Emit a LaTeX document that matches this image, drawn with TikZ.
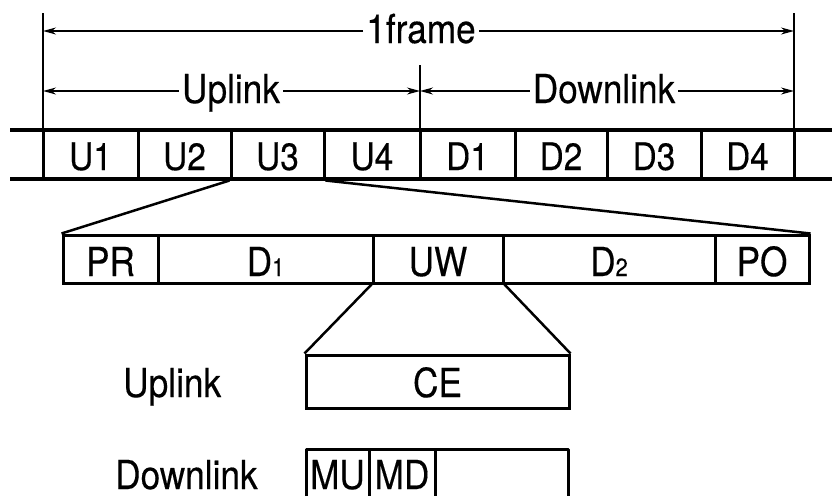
\documentclass[tikz,border=0pt]{standalone}
\usepackage{fontspec}
\setmainfont[FakeStretch=0.88,FakeBold=0.3]{TeX Gyre Heros}
\usetikzlibrary{arrows.meta}
\begin{document}
\begin{tikzpicture}[x=1pt,y=-1pt,
  lbl/.style={font=\fontsize{40}{40}\selectfont, inner sep=0pt},
  toplbl/.style={lbl, inner xsep=3pt, text height=27pt, text depth=0pt},
  stripcell/.style={draw, line width=3pt, minimum height=49pt, inner sep=0pt,
    text height=31pt, text depth=0pt, font=\fontsize{38}{38}\selectfont},
  fieldcell/.style={draw, line width=3pt, minimum height=48pt, inner sep=0pt,
    text height=34pt, text depth=0pt, font=\fontsize{40}{40}\selectfont},
  boxline/.style={line width=3pt, line join=round},
  dimline/.style={line width=1.3pt},
  dimarrow/.style={dimline, -{Stealth[length=13pt,width=7pt]}},
  rail/.style={line width=4.5pt},
  zoomline/.style={line width=2.5pt}]
\useasboundingbox (0,0) rectangle (832,496);

% dimension guide lines
\coordinate (gl) at (43,13);  \coordinate (glb) at (43,130);
\coordinate (gm) at (420,65); \coordinate (gmb) at (420,130);
\coordinate (gr) at (794,13); \coordinate (grb) at (794,130);
\draw[dimline] (gl) -- (glb);
\draw[dimline] (gm) -- (gmb);
\draw[dimline] (gr) -- (grb);

% 1 frame
\coordinate (fl) at (43,31); \coordinate (fr) at (794,31);
\node[toplbl, anchor=base] (frame) at (421,43) {1frame};
\draw[dimarrow] (frame.west |- fl) -- (fl);
\draw[dimarrow] (frame.east |- fr) -- (fr);

% uplink / downlink
\coordinate (ul) at (43,91); \coordinate (um) at (420,91); \coordinate (dr) at (794,91);
\node[toplbl, anchor=base] (uptop) at (231,103) {Uplink};
\node[toplbl, anchor=base] (dntop) at (604,103) {Downlink};
\draw[dimarrow] (uptop.west |- ul) -- (ul);
\draw[dimarrow] (uptop.east |- um) -- (um);
\draw[dimarrow] (dntop.west |- um) -- (um);
\draw[dimarrow] (dntop.east |- dr) -- (dr);

% frame strip
\foreach \n/\l/\r/\t in {u1/43/138/U1, u2/138/231/U2, u3/231/324/U3, u4/324/420/U4,
                         d1/420/515/D1, d2/515/607/D2, d3/607/701/D3, d4/701/794/D4}
  \node[stripcell, minimum width={\r-\l}] (\n) at ({(\l+\r)/2},154.5) {\t};
\coordinate (rtl) at (10,130);  \coordinate (rtr) at (832,130);
\coordinate (rbl) at (10,179);  \coordinate (rbr) at (832,179);
\draw[rail] (rtl) -- (rtr);
\draw[rail] (rbl) -- (rbr);

% burst fields
\node[fieldcell, minimum width=95]  (pr) at (110.5,259) {PR};
\node[fieldcell, minimum width=215] (da) at (265.5,259) {D{\fontsize{25}{25}\selectfont 1}};
\node[fieldcell, minimum width=130] (uw) at (438,259) {UW};
\node[fieldcell, minimum width=212] (db) at (609,259) {D{\fontsize{25}{25}\selectfont 2}};
\node[fieldcell, minimum width=94]  (po) at (762,259) {PO};

\draw[zoomline] (u3.south west) -- (pr.north west);
\draw[zoomline] (u3.south east) -- (po.north east);

% CE box (uplink)
\node[fieldcell, minimum width=263, minimum height=53, text height=31pt] (ce) at (437.5,381.5) {CE};
\draw[zoomline] (uw.south west) -- (ce.north west);
\draw[zoomline] (uw.south east) -- (ce.north east);
\node[lbl, anchor=base west] (uplbl) at (123,397) {Uplink};

% downlink box
\coordinate (bl) at (306,496); \coordinate (tl) at (306,449);
\coordinate (tr) at (568,449); \coordinate (br) at (568,496);
\draw[boxline] (bl) -- (tl) -- (tr) -- (br);
\coordinate (m1t) at (369,449); \coordinate (m1b) at (369,496);
\coordinate (m2t) at (435,449); \coordinate (m2b) at (435,496);
\draw[boxline] (m1t) -- (m1b);
\draw[boxline] (m2t) -- (m2b);
\node[lbl, anchor=base] (mu) at (337.5,489) {MU};
\node[lbl, anchor=base] (md) at (402,489) {MD};
\node[lbl, anchor=base west] (dnlbl) at (115,489) {Downlink};
\end{tikzpicture}
\end{document}
